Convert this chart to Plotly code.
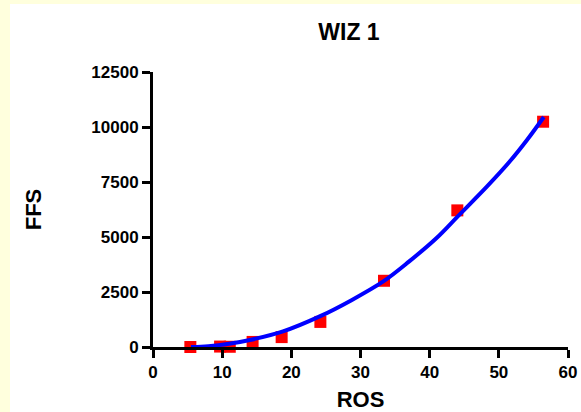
import plotly.graph_objects as go

# Measured points
ros = [5.4, 9.7, 11.1, 14.4, 18.6, 24.2, 33.4, 44.0, 56.4]
ffs = [0, 20, 10, 230, 450, 1140, 3010, 6210, 10240]

# Fitted curve, sampled along ROS
fit_ros = [5.5, 8, 11, 14, 18.8, 24.1, 28.7, 33.3, 37, 41, 44.1, 48.3, 51.6, 54.1, 56.5]
fit_ffs = [0, 40, 150, 320, 709, 1391, 2130, 2982, 3880, 4955, 5950, 7300, 8440, 9420, 10455]

x_ticks = [0, 10, 20, 30, 40, 50, 60]
y_ticks = [0, 2500, 5000, 7500, 10000, 12500]

FONT = "Liberation Sans, Arial, sans-serif"

fig = go.Figure()

fig.add_trace(go.Scatter(
    x=ros, y=ffs, mode="markers",
    marker=dict(symbol="square", size=12, color="#FF0000", line=dict(width=0)),
    cliponaxis=False, showlegend=False,
))

fig.add_trace(go.Scatter(
    x=fit_ros, y=fit_ffs, mode="lines",
    line=dict(color="#0000FF", width=4, shape="spline", smoothing=1),
    cliponaxis=False, showlegend=False,
))

axis_common = dict(
    showline=True, linecolor="black", linewidth=3,
    ticks="outside", ticklen=8, tickwidth=3, tickcolor="black",
    showgrid=False, zeroline=False, automargin=False,
    tickfont=dict(family=FONT, size=17, color="black", weight="bold"),
)

fig.update_xaxes(
    range=[0, 60], tickvals=x_ticks, ticktext=[str(v) for v in x_ticks],
    title=dict(text="<b>ROS</b>", font=dict(family=FONT, size=22, color="black"), standoff=14),
    **axis_common,
)
fig.update_yaxes(
    range=[0, 12500], tickvals=y_ticks, ticktext=[str(v) for v in y_ticks],
    title=dict(text="<b>FFS</b>", font=dict(family=FONT, size=22, color="black"), standoff=44),
    **axis_common,
)

fig.update_layout(
    width=581, height=412, autosize=False,
    margin=dict(l=153, r=13, t=72, b=65),
    paper_bgcolor="#FFFFDD", plot_bgcolor="white",
    title=dict(
        text="<b>WIZ 1</b>", font=dict(family=FONT, size=23, color="black"),
        xref="container", x=349 / 581, xanchor="center",
        yref="container", y=1 - 32 / 412, yanchor="middle",
    ),
    shapes=[dict(
        type="rect", xref="paper", yref="paper",
        x0=(10 - 153) / 415, x1=2, y0=-1, y1=(347 - 4) / 275,
        fillcolor="white", line=dict(width=0), layer="below",
    )],
)

fig.write_html("out.html")
